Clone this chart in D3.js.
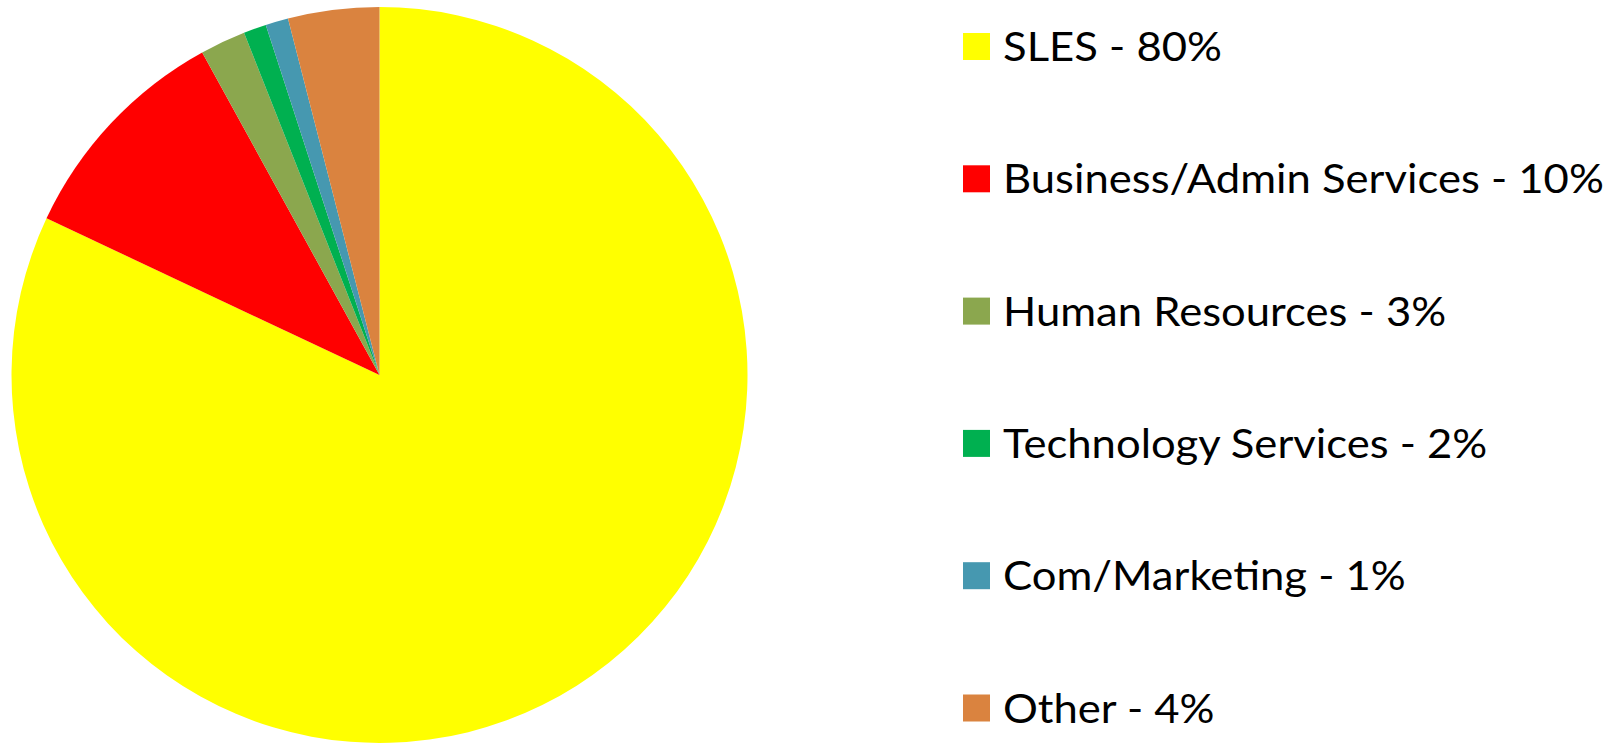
<!DOCTYPE html>
<html>
<head>
<meta charset="utf-8">
<script src="https://cdn.jsdelivr.net/npm/d3@7"></script>
<style>
  body { margin: 0; background: #fff; }
  text { font-family: Lato, "Open Sans", sans-serif; fill: #000; }
</style>
</head>
<body>
<div id="chart"></div>
<script>
var width = 1611, height = 744;

// slice sizes, legend text as printed
var categories = ["SLES", "Business/Admin Services", "Human Resources", "Technology Services", "Com/Marketing", "Other"];
var values = [82, 10, 2, 1, 1, 4];
var labels = ["80%", "10%", "3%", "2%", "1%", "4%"];
var colors = ["#FFFF00", "#FF0000", "#8BA74E", "#00B050", "#4698B0", "#DA833F"];

var svg = d3.select("#chart")
    .append("svg")
    .attr("width", width)
    .attr("height", height);

var pie = d3.pie().sort(null).value((d) => d);
var arc = d3.arc().innerRadius(0).outerRadius(368);

var g = svg.append("g")
    .attr("transform", "translate(379.5,375)");

g.selectAll("path")
    .data(pie(values))
    .enter().append("path")
    .attr("d", arc)
    .attr("fill", (d, i) => colors[i]);

// legend
var rowY = d3.scalePoint()
    .domain(categories)
    .range([46.5, 708]);

var legend = svg.append("g")
    .selectAll("g")
    .data(categories)
    .enter().append("g")
    .attr("transform", (d) => "translate(963," + rowY(d) + ")");

legend.append("rect")
    .attr("x", 0)
    .attr("y", -13.5)
    .attr("width", 27)
    .attr("height", 27)
    .attr("fill", (d, i) => colors[i]);

var labelText = legend.append("text")
    .attr("x", 0)
    .attr("y", 14.5)
    .style("font-size", "40.5px")
    .text((d, i) => d + " - " + labels[i]);

// the original font is wider than Lato, stretch to the same width
var longest = d3.max(labelText.nodes(), (n) => n.getComputedTextLength());
var sx = 601 / longest;
labelText.attr("transform", "translate(40,0) scale(" + sx + ",1)");
</script>
</body>
</html>
